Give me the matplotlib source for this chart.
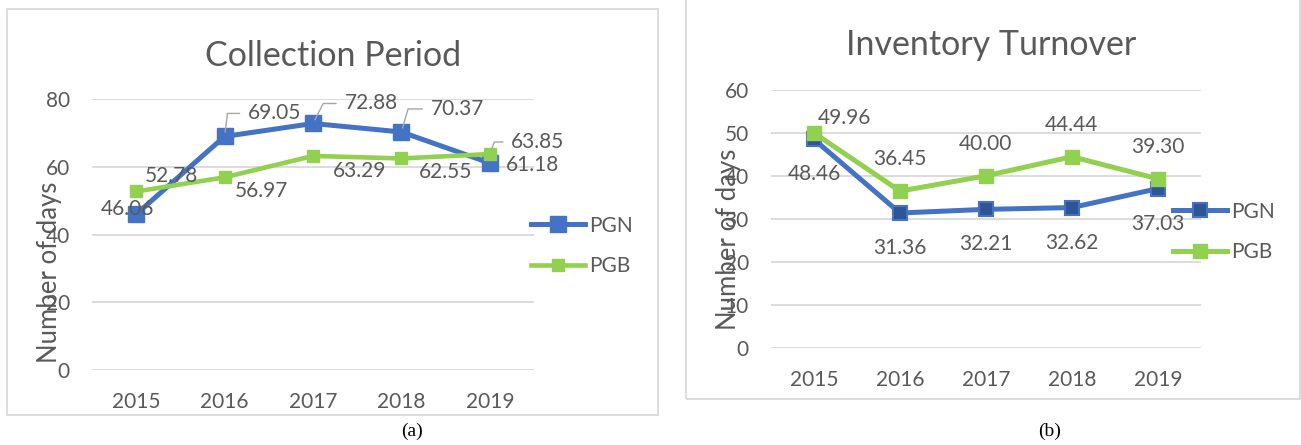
import matplotlib.pyplot as plt
from matplotlib.patches import Rectangle

plt.rcParams['font.family'] = ['Lato', 'DejaVu Sans']

years = ['2015', '2016', '2017', '2018', '2019']

# collection period (days)
coll_pgn = [46.06, 69.05, 72.88, 70.37, 61.18]
coll_pgb = [52.78, 56.97, 63.29, 62.55, 63.85]

# inventory turnover (days)
inv_pgn = [48.46, 31.36, 32.21, 32.62, 37.03]
inv_pgb = [49.96, 36.45, 40.00, 44.44, 39.30]

BLUE = '#4472C4'
DARKBLUE = '#2F5597'
GREEN = '#92D050'
TXT = '#595959'
GRID = '#D9D9D9'

fig = plt.figure(figsize=(13.01, 4.45), dpi=100)

# chart frames
fig.patches.append(Rectangle((0.0054, 0.0674), 0.5004, 0.9115, transform=fig.transFigure,
                             fill=False, edgecolor=GRID, linewidth=1.3))
fig.patches.append(Rectangle((0.5273, 0.1034), 0.4720, 0.95, transform=fig.transFigure,
                             fill=False, edgecolor=GRID, linewidth=1.3))


def setup(ax, ymax, step):
    ax.set_xlim(-0.5, 4.5)
    ax.set_ylim(0, ymax)
    ax.set_yticks(range(0, ymax + 1, step))
    ax.set_xticks(range(len(years)))
    ax.set_xticklabels(years)
    for s in ax.spines.values():
        s.set_visible(False)
    ax.tick_params(axis='both', length=0, labelsize=15, labelcolor=TXT)
    ax.tick_params(axis='y', pad=16)
    ax.tick_params(axis='x', pad=16)
    ax.grid(axis='y', color=GRID, linewidth=1.3)
    ax.set_axisbelow(True)
    ax.set_facecolor('none')


def label(ax, i, v, dx, dy, leader=None):
    kw = {}
    if leader is not None:
        kw['arrowprops'] = dict(arrowstyle='-', color='#A6A6A6', lw=1.0,
                                connectionstyle='angle,angleA=0,angleB=%d,rad=0' % leader,
                                shrinkA=4, shrinkB=3)
    ax.annotate('%.2f' % v, xy=(i, v), xytext=(dx, dy), textcoords='offset pixels',
                ha='center', va='center', fontsize=15, color=TXT, zorder=5, **kw)


# ---- (a) Collection Period
ax1 = fig.add_axes([0.0707, 0.1685, 0.3398, 0.6081])
setup(ax1, 80, 20)
x = range(len(years))
ax1.plot(x, coll_pgn, color=BLUE, lw=3.6, marker='s', ms=11.5, label='PGN', zorder=3)
ax1.plot(x, coll_pgb, color=GREEN, lw=3.3, marker='s', ms=8.8, label='PGB', zorder=3)

pgn_off = [(-9, 5, None), (50, 23, 83), (58, 20, 63), (56, 23, 74), (43, -2, None)]
pgb_off = [(35, 15, None), (37, -14, None), (47, -15, None), (44, -14, None), (48, 12, 70)]
for i in x:
    dx, dy, ld = pgn_off[i]
    label(ax1, i, coll_pgn[i], dx, dy, ld)
    dx, dy, ld = pgb_off[i]
    label(ax1, i, coll_pgb[i], dx, dy, ld)

ax1.set_title('Collection Period', fontsize=24.5, color=TXT, pad=24, x=0.545)
ax1.set_ylabel('Number of days', fontsize=18.5, color=TXT)
ax1.yaxis.set_label_coords(-0.067, 0.36)
ax1.legend(loc='center left', bbox_to_anchor=(0.993, 0.458), frameon=False, fontsize=15,
           handlelength=2.6, handletextpad=0.2, labelspacing=1.0, borderpad=0,
           borderaxespad=0, labelcolor=TXT)

# ---- (b) Inventory Turnover
ax2 = fig.add_axes([0.5926, 0.218, 0.3305, 0.5804])
setup(ax2, 60, 10)
ax2.plot(x, inv_pgn, color=BLUE, lw=3.6, marker='s', ms=9.5, mfc=DARKBLUE, mec=BLUE,
         mew=1.5, label='PGN', zorder=3)
ax2.plot(x, inv_pgb, color=GREEN, lw=3.6, marker='s', ms=9.5, label='PGB', zorder=3)

for i in x:
    label(ax2, i, inv_pgn[i], 0, -35)
    if i == 0:
        label(ax2, i, inv_pgb[i], 30, 15)
    else:
        label(ax2, i, inv_pgb[i], 0, 32)

ax2.set_title('Inventory Turnover', fontsize=24.5, color=TXT, pad=25, x=0.513)
ax2.set_ylabel('Number of days', fontsize=18.5, color=TXT)
ax2.yaxis.set_label_coords(-0.069, 0.42)
ax2.legend(loc='center left', bbox_to_anchor=(0.935, 0.449), frameon=False, fontsize=15,
           handlelength=2.6, handletextpad=0.2, labelspacing=1.0, borderpad=0,
           borderaxespad=0, labelcolor=TXT)

fig.text(412 / 1301, 1 - 431.6 / 445, '(a)', ha='center', va='center',
         family='Liberation Serif', fontsize=14, color='black')
fig.text(1050 / 1301, 1 - 431.6 / 445, '(b)', ha='center', va='center',
         family='Liberation Serif', fontsize=14, color='black')

fig.savefig('out.png', dpi=100)
